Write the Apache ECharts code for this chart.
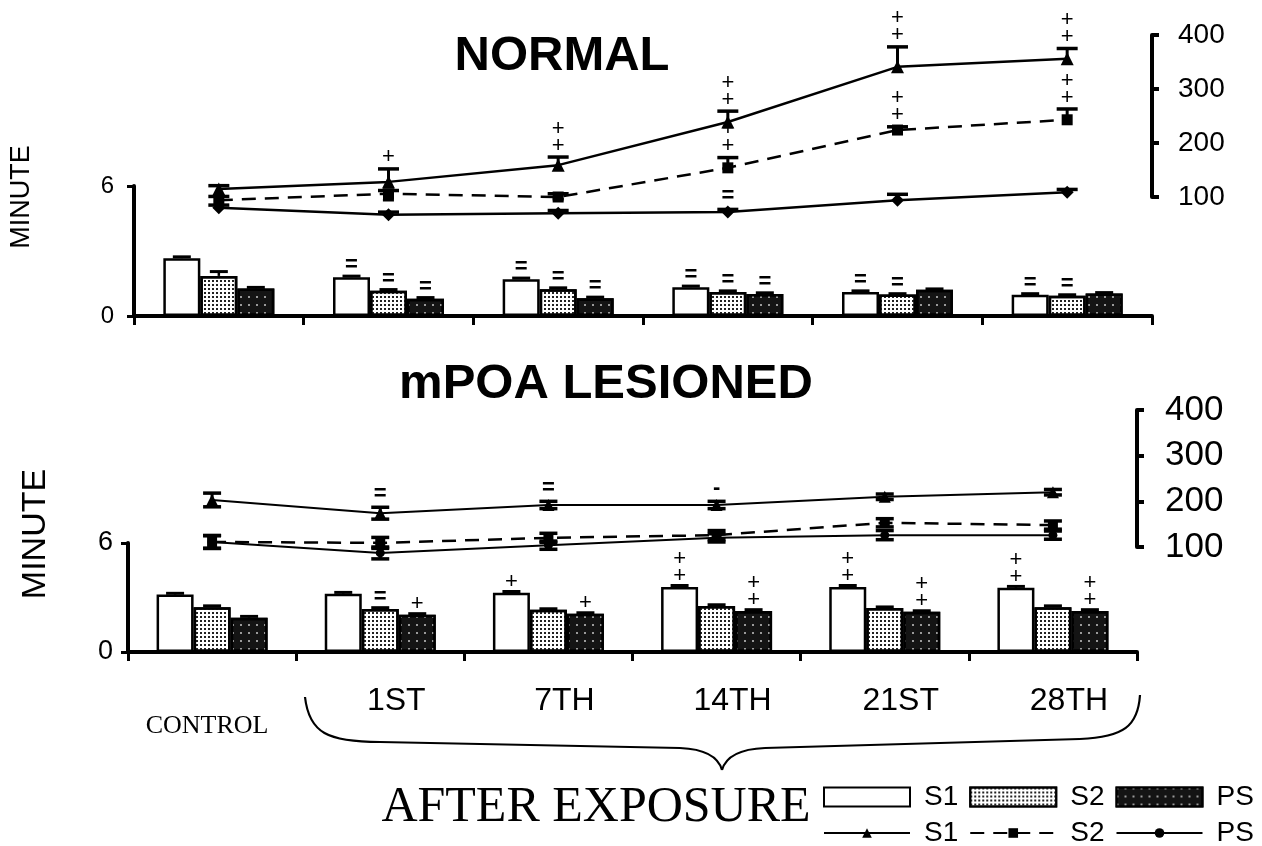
<!DOCTYPE html>
<html>
<head>
<meta charset="utf-8">
<title>NORMAL / mPOA LESIONED</title>
<script src="https://cdn.jsdelivr.net/npm/echarts@6/dist/echarts.min.js"></script>
<style>
  html, body { margin: 0; padding: 0; background: #fff; }
  #main { width: 1262px; height: 846px; }
</style>
</head>
<body>
<div id="main"></div>
<script>
// categories on the x axis
var categories = ['CONTROL', '1ST', '7TH', '14TH', '21ST', '28TH'];
var rightTicks = [100, 200, 300, 400];

// NORMAL panel - bars (minute, left axis)
var normalBarS1 = [2.67, 1.79, 1.70, 1.33, 1.11, 0.98];
var normalBarS2 = [1.85, 1.17, 1.24, 1.11, 0.99, 0.93];
var normalBarPS = [1.27, 0.80, 0.82, 1.02, 1.21, 1.04];
var normalBarErrS1 = [0.06, 0.05, 0.05, 0.05, 0.05, 0.05];
var normalBarErrS2 = [0.20, 0.05, 0.06, 0.05, 0.04, 0.05];
var normalBarErrPS = [0.05, 0.05, 0.05, 0.05, 0.04, 0.04];

// NORMAL panel - lines (right axis)
var normalLineS1 = [115, 128, 159, 239, 341, 356];
var normalLineS2 = [94, 106, 100, 154, 224, 243];
var normalLinePS = [80, 67, 70, 72, 94, 109];
var normalLineErrS1 = [6, 24, 15, 20, 37, 19];
var normalLineErrS2 = [7, 6, 6, 19, 6, 20];
var normalLineErrPS = [5, 5, 5, 5, 11, 5];

// mPOA LESIONED panel - bars
var lesionBarS1 = [3.16, 3.21, 3.26, 3.58, 3.58, 3.53];
var lesionBarS2 = [2.47, 2.37, 2.32, 2.53, 2.42, 2.47];
var lesionBarPS = [1.89, 2.05, 2.10, 2.26, 2.21, 2.26];
var lesionBarErrS1 = [0.07, 0.07, 0.07, 0.08, 0.08, 0.08];
var lesionBarErrS2 = [0.07, 0.07, 0.06, 0.07, 0.06, 0.07];
var lesionBarErrPS = [0.07, 0.06, 0.06, 0.07, 0.06, 0.07];

// mPOA LESIONED panel - lines
var lesionLineS1 = [203, 174, 192, 192, 210, 220];
var lesionLineS2 = [111, 109, 120, 126, 153, 148];
var lesionLinePS = [111, 87, 104, 120, 126, 126];
var lesionLineErrS1 = [15, 13, 8, 8, 6, 6];
var lesionLineErrS2 = [14, 12, 10, 10, 9, 9];
var lesionLineErrPS = [14, 13, 9, 9, 10, 9];

// significance marks (S1, S2, PS)
var normalBarSig = [['', '=', '=', '=', '=', '='], ['', '=', '=', '=', '=', '='], ['', '=', '=', '=', '', '']];
var normalLineSig = [['', '+', '++', '++', '++', '++'], ['', '', '', '++', '++', '++'], ['', '=', '=', '=', '', '']];
var lesionBarSig = [['', '', '+', '++', '++', '++'], ['', '=', '', '', '', ''], ['', '+', '+', '++', '++', '++']];
var lesionLineSig = [['', '=', '=', '-', '', ''], ['', '', '', '', '', ''], ['', '', '', '', '', '']];

var BAR_W = 37;
var FONT = 'Liberation Sans';
var SERIF = 'Liberation Serif';

var chart = echarts.init(document.getElementById('main'));

function sigText(x, y, t) {
    var plus = t.charAt(0) === '+';
    return {
        type: 'text', x: x, y: y,
        style: {
            text: t.split('').join('\n'),
            fill: '#000',
            fontFamily: FONT,
            fontSize: 22,
            fontWeight: plus ? 'normal' : 'bold',
            align: 'center',
            verticalAlign: 'bottom',
            lineHeight: plus ? 17 : 20
        }
    };
}

// rows [category, value+err, seriesIndex] for the custom mark series
function markRows(vals, errs) {
    var rows = [];
    for (var s = 0; s < vals.length; s++) {
        for (var c = 0; c < vals[s].length; c++) {
            rows.push([c, vals[s][c] + errs[s][c], s]);
        }
    }
    return rows;
}

function barMarks(vals, errs, sigs) {
    return function (params, api) {
        var c = api.value(0), s = api.value(2);
        var v = vals[s][c], e = errs[s][c];
        var p0 = api.coord([c, v]);
        var p1 = api.coord([c, v + e]);
        var x = p0[0] + (s - 1) * BAR_W;
        var kids = [
            { type: 'line', shape: { x1: x, y1: p0[1], x2: x, y2: p1[1] }, style: { stroke: '#000', lineWidth: 2.5 } },
            { type: 'line', shape: { x1: x - 9, y1: p1[1], x2: x + 9, y2: p1[1] }, style: { stroke: '#000', lineWidth: 3 } }
        ];
        if (sigs[s][c]) kids.push(sigText(x, p1[1] - 1, sigs[s][c]));
        return { type: 'group', children: kids };
    };
}

function lineMarks(vals, errs, sigs, both, capW) {
    return function (params, api) {
        var c = api.value(0), s = api.value(2);
        var v = vals[s][c], e = errs[s][c];
        var p0 = api.coord([c, v]);
        var up = api.coord([c, v + e]);
        var dn = both ? api.coord([c, v - e]) : p0;
        var x = p0[0];
        var kids = [
            { type: 'line', shape: { x1: x, y1: dn[1], x2: x, y2: up[1] }, style: { stroke: '#000', lineWidth: 3 } },
            { type: 'line', shape: { x1: x - capW / 2, y1: up[1], x2: x + capW / 2, y2: up[1] }, style: { stroke: '#000', lineWidth: 3.5 } }
        ];
        if (both) {
            kids.push({ type: 'line', shape: { x1: x - capW / 2, y1: dn[1], x2: x + capW / 2, y2: dn[1] }, style: { stroke: '#000', lineWidth: 3.5 } });
        }
        if (sigs[s][c]) kids.push(sigText(x, up[1] - 3, sigs[s][c]));
        return { type: 'group', children: kids };
    };
}

var whiteBar = { color: '#fff', borderColor: '#000', borderWidth: 2.5 };
var dotBar = {
    color: '#fff', borderColor: '#000', borderWidth: 2.5,
    decal: { symbol: 'rect', symbolSize: 1, color: '#222', dashArrayX: [1.2, 2], dashArrayY: [1.2, 2] }
};
var blackBar = {
    color: '#141414', borderColor: '#000', borderWidth: 2.5,
    decal: { symbol: 'rect', symbolSize: 1, color: '#9a9a9a', dashArrayX: [1.5, 6], dashArrayY: [1.5, 6] }
};

function bar(name, data, axis, style) {
    return {
        name: name, type: 'bar', xAxisIndex: axis, yAxisIndex: axis,
        data: data, barWidth: BAR_W, barGap: '0%', itemStyle: style, z: 2
    };
}

function line(name, data, axis, symbol, size, dashed, width) {
    return {
        name: name, type: 'line', xAxisIndex: axis, yAxisIndex: axis,
        data: data, clip: false, symbol: symbol, symbolSize: size,
        lineStyle: { color: '#000', width: width, type: dashed ? [14, 9] : 'solid' },
        itemStyle: { color: '#000' }, z: 4
    };
}

function barXAxis(grid, showLabels) {
    return {
        type: 'category', gridIndex: grid, data: categories, boundaryGap: true,
        axisLine: { show: true, lineStyle: { color: '#000', width: 4 } },
        axisTick: { show: true, interval: 0, length: 9, lineStyle: { color: '#000', width: 3 } },
        axisLabel: showLabels ? {
            show: true, interval: 0, margin: 33,
            formatter: function (v, i) { return i === 0 ? '{c|' + v + '}' : '{a|' + v + '}'; },
            rich: {
                a: { fontFamily: FONT, fontSize: 32, color: '#000', padding: [0, 0, 0, 32] },
                c: { fontFamily: SERIF, fontSize: 26, color: '#000', padding: [28, 10, 0, 0] }
            }
        } : { show: false },
        splitLine: { show: false }
    };
}

function hiddenXAxis(grid) {
    return { type: 'category', gridIndex: grid, data: categories, boundaryGap: true, show: false };
}

function leftAxis(grid, fontSize, margin) {
    return {
        type: 'value', gridIndex: grid, min: 0, max: 6, interval: 6,
        axisLine: { show: true, lineStyle: { color: '#000', width: 4 } },
        axisTick: { show: true, length: 7, lineStyle: { color: '#000', width: 3 } },
        axisLabel: { fontFamily: FONT, fontSize: fontSize, color: '#000', margin: margin },
        splitLine: { show: false }
    };
}

function rightAxis(grid, fontSize, margin) {
    return {
        type: 'value', gridIndex: grid, position: 'right', min: 100, max: 400, interval: 100,
        axisLine: { show: true, lineStyle: { color: '#000', width: 4 } },
        axisTick: { show: true, length: 7, lineStyle: { color: '#000', width: 4 } },
        axisLabel: {
            fontFamily: FONT, fontSize: fontSize, color: '#000', margin: margin,
            formatter: function (v) { return rightTicks.indexOf(v) >= 0 ? String(v) : ''; }
        },
        splitLine: { show: false }
    };
}

// brace under the exposure days, built from curve pieces
var braceStyle = { fill: 'none', stroke: '#000', lineWidth: 2.2 };
var brace = [
    { type: 'bezierCurve', shape: { x1: 305, y1: 697, cpx1: 309, cpy1: 733, cpx2: 328, cpy2: 742, x2: 380, y2: 742 }, style: braceStyle },
    { type: 'line', shape: { x1: 380, y1: 742, x2: 680, y2: 748 }, style: braceStyle },
    { type: 'bezierCurve', shape: { x1: 680, y1: 748, cpx1: 705, cpy1: 749, cpx2: 718, cpy2: 756, x2: 722, y2: 770 }, style: braceStyle },
    { type: 'bezierCurve', shape: { x1: 722, y1: 770, cpx1: 726, cpy1: 756, cpx2: 740, cpy2: 749, x2: 765, y2: 748 }, style: braceStyle },
    { type: 'line', shape: { x1: 765, y1: 748, x2: 1080, y2: 739 }, style: braceStyle },
    { type: 'bezierCurve', shape: { x1: 1080, y1: 739, cpx1: 1124, cpy1: 737, cpx2: 1138, cpy2: 726, x2: 1140, y2: 695 }, style: braceStyle }
];

var legendText = { fontFamily: FONT, fontSize: 28, color: '#000', padding: [0, 0, 0, 9] };

var option = {
    backgroundColor: '#fff',
    animation: false,
    title: [
        { text: 'NORMAL', left: 557, top: 27, textAlign: 'center',
          textStyle: { fontFamily: FONT, fontWeight: 'bold', fontSize: 49, color: '#000' } },
        { text: 'mPOA LESIONED', left: 601, top: 355, textAlign: 'center',
          textStyle: { fontFamily: FONT, fontWeight: 'bold', fontSize: 49, color: '#000' } }
    ],
    legend: [
        {
            data: ['S1', 'S2', 'PS'], left: 823, top: 783, padding: 0, selectedMode: false,
            icon: 'rect', itemWidth: 86, itemHeight: 19, itemGap: 11,
            itemStyle: { borderColor: '#000', borderWidth: 2 },
            textStyle: legendText
        },
        {
            data: ['S1 ', 'S2 ', 'PS '], left: 823, top: 819, padding: 0, selectedMode: false,
            itemWidth: 86, itemHeight: 12, itemGap: 11,
            formatter: function (n) { return n.trim(); },
            textStyle: legendText
        }
    ],
    grid: [
        { left: 134, right: 110, top: 186, height: 130 },
        { left: 134, right: 110, top: 35, height: 162 },
        { left: 128, right: 125, top: 543, height: 109 },
        { left: 128, right: 125, top: 410, height: 137 }
    ],
    xAxis: [barXAxis(0, false), hiddenXAxis(1), barXAxis(2, true), hiddenXAxis(3)],
    yAxis: [leftAxis(0, 24, 20), rightAxis(1, 28, 26), leftAxis(2, 27, 15), rightAxis(3, 35, 28)],
    graphic: [
        { type: 'text', x: 22, y: 197, rotation: Math.PI / 2,
          style: { text: 'MINUTE', fontFamily: FONT, fontSize: 27, fill: '#000', align: 'center', verticalAlign: 'middle' } },
        { type: 'text', x: 36, y: 534, rotation: Math.PI / 2,
          style: { text: 'MINUTE', fontFamily: FONT, fontSize: 34, fill: '#000', align: 'center', verticalAlign: 'middle' } },
        { type: 'text', x: 596, y: 808,
          style: { text: 'AFTER EXPOSURE', fontFamily: SERIF, fontSize: 50, fill: '#000', align: 'center', verticalAlign: 'middle' } },
        { type: 'group', children: brace }
    ],
    series: [
        // lesioned panel first so the legend takes its symbols
        bar('S1', lesionBarS1, 2, whiteBar),
        bar('S2', lesionBarS2, 2, dotBar),
        bar('PS', lesionBarPS, 2, blackBar),
        line('S1 ', lesionLineS1, 3, 'triangle', 12, false, 2),
        line('S2 ', lesionLineS2, 3, 'rect', 10, true, 2.5),
        line('PS ', lesionLinePS, 3, 'circle', 9, false, 2),

        bar('S1', normalBarS1, 0, whiteBar),
        bar('S2', normalBarS2, 0, dotBar),
        bar('PS', normalBarPS, 0, blackBar),
        line('S1 ', normalLineS1, 1, 'triangle', 13, false, 2.5),
        line('S2 ', normalLineS2, 1, 'rect', 11, true, 2.5),
        line('PS ', normalLinePS, 1, 'diamond', 13, false, 2.5),

        { type: 'custom', xAxisIndex: 0, yAxisIndex: 0, z: 3, silent: true,
          data: markRows([normalBarS1, normalBarS2, normalBarPS], [normalBarErrS1, normalBarErrS2, normalBarErrPS]),
          renderItem: barMarks([normalBarS1, normalBarS2, normalBarPS], [normalBarErrS1, normalBarErrS2, normalBarErrPS], normalBarSig) },
        { type: 'custom', xAxisIndex: 1, yAxisIndex: 1, z: 3, silent: true,
          data: markRows([normalLineS1, normalLineS2, normalLinePS], [normalLineErrS1, normalLineErrS2, normalLineErrPS]),
          renderItem: lineMarks([normalLineS1, normalLineS2, normalLinePS], [normalLineErrS1, normalLineErrS2, normalLineErrPS], normalLineSig, false, 21) },
        { type: 'custom', xAxisIndex: 2, yAxisIndex: 2, z: 3, silent: true,
          data: markRows([lesionBarS1, lesionBarS2, lesionBarPS], [lesionBarErrS1, lesionBarErrS2, lesionBarErrPS]),
          renderItem: barMarks([lesionBarS1, lesionBarS2, lesionBarPS], [lesionBarErrS1, lesionBarErrS2, lesionBarErrPS], lesionBarSig) },
        { type: 'custom', xAxisIndex: 3, yAxisIndex: 3, z: 3, silent: true,
          data: markRows([lesionLineS1, lesionLineS2, lesionLinePS], [lesionLineErrS1, lesionLineErrS2, lesionLineErrPS]),
          renderItem: lineMarks([lesionLineS1, lesionLineS2, lesionLinePS], [lesionLineErrS1, lesionLineErrS2, lesionLineErrPS], lesionLineSig, true, 18) }
    ]
};

chart.setOption(option);
</script>
</body>
</html>
